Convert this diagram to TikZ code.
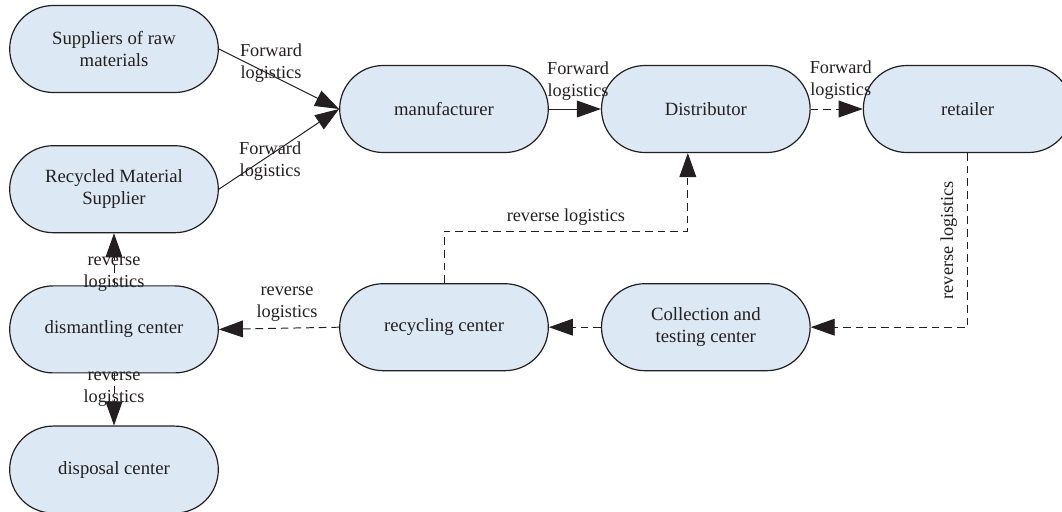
\documentclass[tikz,border=0pt]{standalone}
\usepackage{fontspec}
\setmainfont{Liberation Serif}
\usepackage{xcolor}
\usepackage{tikz}
\usetikzlibrary{positioning,arrows.meta,shapes.misc}

\definecolor{boxfill}{RGB}{220,233,244}
\definecolor{ink}{RGB}{35,31,32}

\begin{document}
\begin{tikzpicture}[node distance=1.3cm,
  stage/.style={draw=ink, line width=0.85pt, rounded rectangle, fill=boxfill, text=ink,
    minimum width=5.45cm, minimum height=2.175cm, align=center,
    font=\fontsize{13.3}{15.5}\selectfont},
  lbl/.style={align=center, inner sep=1pt, text=ink, font=\fontsize{13}{15.5}\selectfont},
  flow/.style={draw=ink, line width=0.7pt, -{Triangle[length=0.6cm, width=0.42cm]}},
  back/.style={flow, dash pattern=on 5.5pt off 3.5pt}]
\useasboundingbox (0,0) rectangle (26.55,-12.775);
% left column
\node[stage] (supplier) at (2.85,-1.225) {Suppliers of raw\\materials};
\node[stage, below=of supplier] (recycled) {Recycled Material\\Supplier};
\node[stage, below=of recycled] (dismantling) {dismantling center};
\node[stage, below=of dismantling] (disposal) {disposal center};
% forward chain
\node[stage] (manufacturer) at (11.1,-2.725) {manufacturer};
\node[stage, right=of manufacturer] (distributor) {Distributor};
\node[stage, right=of distributor] (retailer) {retailer};
% reverse chain
\node[stage, below=3.25cm of manufacturer] (recycling) {recycling center};
\node[stage, right=of recycling] (collection) {Collection and\\testing center};

\draw[flow] (supplier.east) -- node[lbl, xshift=-0.2cm, yshift=0.4cm] {Forward\\logistics} (manufacturer.west);
\draw[flow] (recycled.east) -- node[lbl, xshift=-0.22cm, yshift=-0.3cm] {Forward\\logistics} (manufacturer.west);
\draw[flow] (manufacturer.east) -- node[lbl, xshift=0.08cm, yshift=0.7cm] {Forward\\logistics} (distributor.west);
\draw[back] (distributor.east) -- node[lbl, xshift=0.1cm, yshift=0.72cm] {Forward\\logistics} (retailer.west);
\draw[back] (retailer.south) |- node[lbl, pos=0.25, rotate=90, anchor=south, yshift=0.22cm] {reverse logistics} (collection.east);
\draw[back] (collection.west) -- (recycling.east);
\draw[back] (recycling.north) -- ++(0,1.3cm) -| node[lbl, pos=0.25, above=0.1cm] {reverse logistics} ([xshift=-0.45cm]distributor.south);
\draw[back] (recycling.west) -- node[lbl, xshift=0.2cm, yshift=0.6cm] {reverse\\logistics} (dismantling.east);
\draw[back] (dismantling.north) -- node[lbl, yshift=-0.38cm] {reverse\\logistics} (recycled.south);
\draw[back] (dismantling.south) -- node[lbl, yshift=0.25cm] {reverse\\logistics} (disposal.north);
\end{tikzpicture}
\end{document}
